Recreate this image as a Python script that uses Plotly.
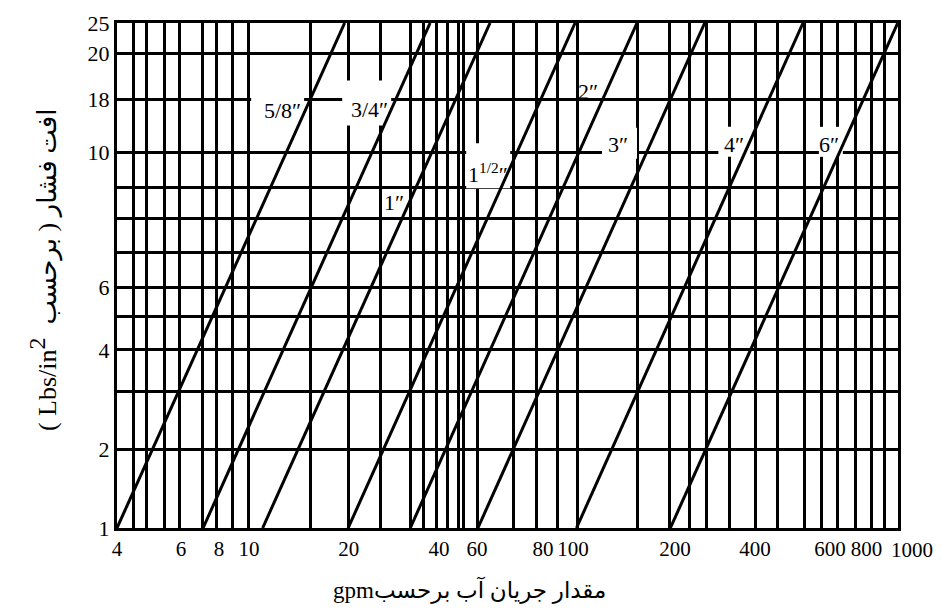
import numpy as np
import plotly.graph_objects as go

# ---------------- data ----------------
pipe_sizes = ['5/8', '3/4', '1', '1 1/2', '2', '3', '4', '6']
flow_at_min_drop = [4.0, 7.35, 11.2, 20.5, 31.8, 51.3, 103.0, 200.0]      # gpm at 1 psi
flow_at_max_drop = [20.0, 36.6, 55.9, 102.0, 158.0, 255.0, 511.0, 998.0]  # gpm at 25 psi
pressure_drop_span = [1, 25]                                               # Lbs/in^2
label_pressure = [14.3, 14.6, 7.94, 10.1, 16.2, 11.5, 11.5, 11.5]          # where each size is written

x_tick_labels = ['4', '6', '8', '10', '20', '40', '60', '80', '100', '200', '400', '600', '800']
y_tick_labels = ['1', '2', '4', '6', '10', '18', '20', '25']

# ---------------- layout constants (positions of the printed grid) ----------------
x_tick_pos = [4, 6.29, 8.23, 10.17, 20.6, 39, 51, 81.3, 100.5, 206.7, 364, 618, 800]
y_tick_pos = [1, 1.654, 3.11, 4.645, 10.98, 15.4, 20.64, 25]
x_grid = [4.51, 4.94, 5.58, 6.24, 7.30, 8.11, 9.08, 10.1, 15.66, 20.5, 25.7, 31.8, 34.8,
          38.4, 41.5, 44.6, 46.2, 51.0, 65.8, 77.9, 89.8, 103.4, 159, 199.5, 229.8, 259,
          303, 364, 428, 518, 584, 650, 738, 832, 912]
y_grid = [1.654, 2.394, 3.110, 3.862, 4.645, 5.806, 7.211, 8.785, 10.98, 15.40, 20.64]

X_RANGE = [4, 1000]
Y_RANGE = [1, 25]
W, H = 943, 615
M = dict(l=117, r=45, t=23, b=87)
SERIF = 'Liberation Serif, Times New Roman, serif'
INK = 'black'

# pixels per decade, for offsetting label boxes in screen units
XPD = (W - M['l'] - M['r']) / np.log10(X_RANGE[1] / X_RANGE[0])
YPD = (H - M['t'] - M['b']) / np.log10(Y_RANGE[1] / Y_RANGE[0])


def flow_at(i, p):
    """log-log interpolation along pipe line i, returns log10(gpm)"""
    lx1, lx2 = np.log10(flow_at_min_drop[i]), np.log10(flow_at_max_drop[i])
    ly1, ly2 = np.log10(pressure_drop_span[0]), np.log10(pressure_drop_span[1])
    return lx1 + (lx2 - lx1) * (np.log10(p) - ly1) / (ly2 - ly1)


label_text = ['5/8″', '3/4″', '1″', '1<sup>1/2</sup>″', '2″', '3″', '4″', '6″']
text_shift = [(-2, 0), (-2, -2), (-3, 0), (-1, -8), (-6, 0), (-20, 0), (-2, 0), (-2, 0)]
# white knock-out boxes behind the labels: (left, right, top, bottom) in screen px
boxes = [(-54, -1, -20, 12), (-50, -1, -27, 18), None, (-45, -1, -22, 23),
         None, (-48, -13, -17, 14), (-30, 2, -18, 12), (-24, 0, -18, 12)]

fig = go.Figure()

# knock-out boxes first (above the grid, below the pipe lines)
for i in range(len(pipe_sizes)):
    b = boxes[i]
    if b is None:
        continue
    ax = flow_at(i, label_pressure[i])
    ay = np.log10(label_pressure[i])
    xl, xr = 10 ** (ax + b[0] / XPD), 10 ** (ax + b[1] / XPD)
    yt, yb = 10 ** (ay - b[2] / YPD), 10 ** (ay - b[3] / YPD)
    fig.add_trace(go.Scatter(x=[xl, xr, xr, xl, xl], y=[yb, yb, yt, yt, yb],
                             mode='lines', fill='toself', fillcolor='white',
                             line=dict(width=0, color='white'), hoverinfo='skip',
                             showlegend=False))

for name, f1, f2 in zip(pipe_sizes, flow_at_min_drop, flow_at_max_drop):
    fig.add_trace(go.Scatter(
        x=[f1, f2], y=pressure_drop_span, mode='lines', name=name + '"',
        line=dict(color=INK, width=3), showlegend=False, hoverinfo='name'))

for i in range(len(pipe_sizes)):
    ax = flow_at(i, label_pressure[i])
    ay = np.log10(label_pressure[i])
    fig.add_annotation(x=ax, y=ay, xref='x', yref='y', text=label_text[i],
                       showarrow=False, xanchor='right', yanchor='middle',
                       xshift=text_shift[i][0], yshift=text_shift[i][1],
                       font=dict(family=SERIF, size=22, color=INK))

# last x label sits beyond the frame in the reference
fig.add_annotation(xref='paper', yref='paper', x=1, y=0, xshift=14, yshift=-8,
                   text='1000', showarrow=False, xanchor='center', yanchor='top',
                   font=dict(family=SERIF, size=21, color=INK))

# axis titles
fig.add_annotation(xref='paper', yref='paper', x=0.451, y=0, yshift=-62,
                   text='gpm' + 'مقدار جریان آب برحسب', showarrow=False,
                   xanchor='center', yanchor='middle',
                   font=dict(family=SERIF + ', DejaVu Sans', size=23, color=INK))
fig.add_annotation(xref='paper', yref='paper', x=-0.094, y=0.51, textangle=-90,
                   text='( Lbs/in<sup><span style="font-size:24px">2</span></sup>  ' + 'افت فشار ( برحسب',
                   showarrow=False, xanchor='center', yanchor='middle',
                   font=dict(family=SERIF + ', DejaVu Sans', size=26, color=INK))

axis_common = dict(showline=True, mirror=True, linecolor=INK, linewidth=3, ticks='',
                   showgrid=False, zeroline=False, tickangle=0)

fig.update_xaxes(type='log', range=list(np.log10(X_RANGE)), tickmode='array',
                 tickvals=x_tick_pos, ticktext=x_tick_labels,
                 tickfont=dict(family=SERIF, size=21, color=INK),
                 minor=dict(tickmode='array', tickvals=x_grid, showgrid=True,
                            gridcolor=INK, gridwidth=3, ticks=''),
                 **axis_common)
fig.update_yaxes(type='log', range=list(np.log10(Y_RANGE)), tickmode='array',
                 tickvals=y_tick_pos, ticktext=y_tick_labels,
                 tickfont=dict(family=SERIF, size=22, color=INK),
                 minor=dict(tickmode='array', tickvals=y_grid, showgrid=True,
                            gridcolor=INK, gridwidth=3, ticks=''),
                 **axis_common)

fig.update_layout(width=W, height=H, margin=M,
                  plot_bgcolor='white', paper_bgcolor='white', showlegend=False)

fig.write_html('out.html', config={'displayModeBar': False},
               post_script="document.body.style.margin='0px';")
